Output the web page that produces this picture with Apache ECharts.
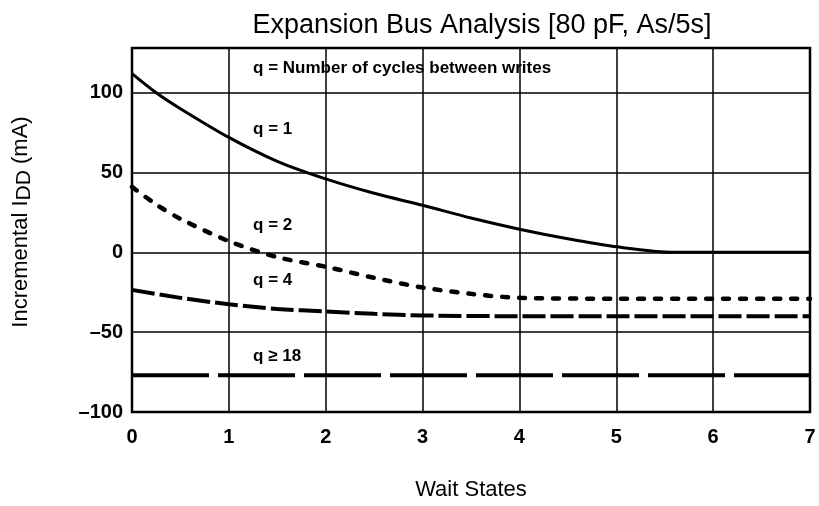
<!DOCTYPE html>
<html>
<head>
<meta charset="utf-8">
<script src="https://cdn.jsdelivr.net/npm/echarts@6/dist/echarts.min.js"></script>
<style>
html,body{margin:0;padding:0;background:#fff;}
#chart{width:819px;height:506px;}
</style>
</head>
<body>
<div id="chart"></div>
<script>
var titleText = 'Expansion Bus Analysis [80 pF, As/5s]';
var xTicks = [0, 1, 2, 3, 4, 5, 6, 7];
var yTicks = [-100, -50, 0, 50, 100];

// Wait states (x) and incremental IDD (mA)
var q1X = [0, 0.25, 0.5, 1, 1.5, 2, 2.5, 3, 3.5, 4, 4.5, 5, 5.6, 6, 7];
var q1Y = [112, 100, 90, 72, 57, 46, 37, 29.5, 21.5, 14.5, 8.5, 3.5, 0, 0, 0];
var q2X = [0, 0.25, 0.5, 1, 1.5, 2, 2.5, 3, 3.5, 4, 5, 6, 7];
var q2Y = [41, 30, 21, 7, -3, -9, -16, -22, -26, -28.5, -29, -29, -29];
var q4X = [0, 0.5, 1, 1.5, 2, 2.5, 3, 4, 5, 6, 7];
var q4Y = [-23.5, -28.5, -32.5, -35.5, -37, -38.5, -39.5, -40, -40, -40, -40];
var q18X = [0, 7];
var q18Y = [-77, -77];

var annoText = ['q = Number of cycles between writes', 'q = 1', 'q = 2', 'q = 4', 'q \u2265 18'];
var annoX = [1.25, 1.25, 1.25, 1.25, 1.25];
var annoY = [115.5, 77, 17, -17.5, -65];

function pairs(xs, ys) { return xs.map(function (x, i) { return [x, ys[i]]; }); }

var chart = echarts.init(document.getElementById('chart'), null, {renderer: 'canvas'});
var FONT = 'Liberation Sans, Arial, sans-serif';
var lineBase = {type: 'line', smooth: 0.3, showSymbol: false, symbol: 'none', animation: false, z: 5};

chart.setOption({
  backgroundColor: '#fff',
  animation: false,
  title: {
    text: titleText, left: 477, top: 7, textAlign: 'center',
    textStyle: {fontFamily: FONT, fontSize: 27, fontWeight: 'normal', color: '#000'}
  },
  grid: {left: 132, right: 9, top: 48, bottom: 89, show: true, borderColor: '#000', borderWidth: 2.5, backgroundColor: 'transparent', z: 6},
  xAxis: {
    type: 'value', min: 0, max: 7, interval: 1,
    name: 'Wait States', nameLocation: 'middle', nameGap: 67,
    nameTextStyle: {fontFamily: FONT, fontSize: 22, color: '#000'},
    axisLine: {show: false}, axisTick: {show: false},
    axisLabel: {fontFamily: FONT, fontSize: 20, color: '#000', margin: 15, fontWeight: 'bold',
      formatter: function (v) { return xTicks.indexOf(v) >= 0 ? String(v) : ''; }},
    splitLine: {show: true, lineStyle: {color: '#000', width: 1.5}}
  },
  yAxis: {
    type: 'value', min: -100, max: 128, interval: 50,
    name: 'Incremental I{sub|DD} (mA)', nameLocation: 'middle', nameGap: 97, nameRotate: 90,
    nameTextStyle: {fontFamily: FONT, fontSize: 22, color: '#000', padding: [0, 0, 0, 16],
      rich: {sub: {fontFamily: FONT, fontSize: 21, color: '#000', padding: [8, 0, 0, 0]}}},
    axisLine: {show: false}, axisTick: {show: false},
    axisLabel: {fontFamily: FONT, fontSize: 20, color: '#000', margin: 9, fontWeight: 'bold', showMaxLabel: false,
      formatter: function (v) { return yTicks.indexOf(v) >= 0 ? String(v).replace('-', '\u2013') : ''; }},
    splitLine: {show: true, lineStyle: {color: '#000', width: 1.5}}
  },
  series: [
    Object.assign({}, lineBase, {name: 'q = 1', data: pairs(q1X, q1Y),
      lineStyle: {color: '#000', width: 3}}),
    Object.assign({}, lineBase, {name: 'q = 2', data: pairs(q2X, q2Y),
      lineStyle: {color: '#000', width: 4.5, type: [6, 11], cap: 'round'}}),
    Object.assign({}, lineBase, {name: 'q = 4', data: pairs(q4X, q4Y),
      lineStyle: {color: '#000', width: 4, type: [23, 5]}}),
    Object.assign({}, lineBase, {name: 'q >= 18', smooth: false, data: pairs(q18X, q18Y),
      lineStyle: {color: '#000', width: 4, type: [77, 9]}}),
    {
      type: 'scatter', symbolSize: 0, animation: false, z: 7, silent: true,
      itemStyle: {opacity: 1, color: '#000'},
      data: annoText.map(function (t, i) { return {value: [annoX[i], annoY[i]], name: t}; }),
      label: {show: true, position: 'right', distance: 0, formatter: '{b}', opacity: 1,
        fontFamily: FONT, fontSize: 17, fontWeight: 'bold', color: '#000'}
    }
  ]
});
</script>
</body>
</html>
